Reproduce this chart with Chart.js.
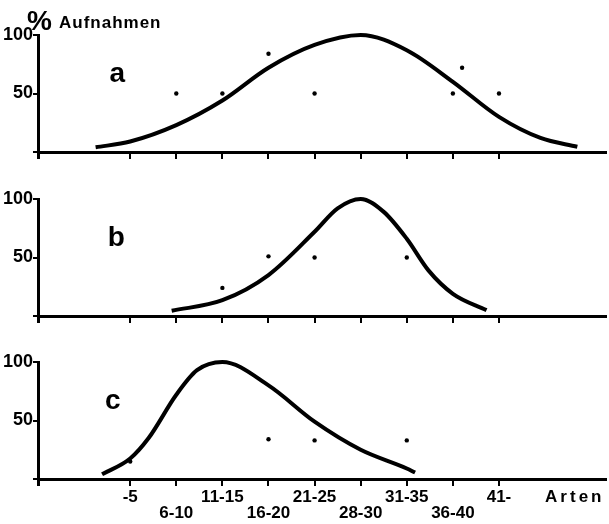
<!DOCTYPE html>
<html>
<head>
<meta charset="utf-8">
<script src="https://cdn.jsdelivr.net/npm/chart.js@4.4.1/dist/chart.umd.min.js"></script>
<style>
html,body{margin:0;padding:0;background:#fff;}
#wrap{position:relative;width:609px;height:524px;overflow:hidden;}
canvas{position:absolute;left:0;}
</style>
</head>
<body>
<div id="wrap">
<canvas id="chartA" width="609" height="170" style="top:0px"></canvas>
<canvas id="chartB" width="609" height="170" style="top:165px"></canvas>
<canvas id="chartC" width="609" height="194" style="top:330px"></canvas>
</div>
<script>
// species-count classes on the x axis (position 1..9, axis starts at -1)
const categories = ['-5','6-10','11-15','16-20','21-25','28-30','31-35','36-40','41-'];
const categoryPos = [1,2,3,4,5,6,7,8,9];
const yTicks = [0,50,100];

// panel a: fitted curve and observed points (% Aufnahmen)
const curveAX = [0.25, 1, 2, 3, 4, 5, 6, 7, 8, 9, 9.9, 10.7];
const curveAY = [4, 9, 23, 44, 72, 91.5, 100, 87, 60, 30, 12, 4.5];
const dotsAX = [2, 3, 4, 5, 8, 8.2, 9];
const dotsAY = [50, 50, 84, 50, 50, 72, 50];

// panel b
const curveBX = [1.9, 3, 4, 5, 5.5, 6, 6.5, 7, 7.47, 8, 8.73];
const curveBY = [4.5, 13.5, 35, 72, 92, 100, 89, 66, 39, 19, 5];
const dotsBX = [3, 4, 5, 7];
const dotsBY = [24, 51, 50, 50];

// panel c
const curveCX = [0.39, 1, 1.4, 2, 2.45, 3, 4, 5, 6, 7, 7.18];
const curveCY = [4, 17.5, 35, 72, 93, 100, 80, 49, 25, 9, 5.5];
const dotsCX = [1, 4, 5, 7];
const dotsCY = [15, 34, 33, 33];

const family = "'Liberation Sans', Arial, Helvetica, sans-serif";

function toPoints(xs, ys){
    return xs.map((x,k)=>({x:x, y:ys[k]}));
}

// draws panel letter, title and the "Arten" label
const textPlugin = {
    id:'panelText',
    afterDraw(chart, args, opts){
        const ctx = chart.ctx;
        const x = chart.scales.x, y = chart.scales.y;
        ctx.save();
        ctx.fillStyle = '#000';
        ctx.font = 'bold 28px ' + family;
        ctx.textAlign = 'center';
        ctx.textBaseline = 'alphabetic';
        ctx.fillText(opts.letter, x.getPixelForValue(opts.letterX), y.getPixelForValue(59.5));
        if(opts.title){
            ctx.textAlign = 'left';
            ctx.font = 'bold 28px ' + family;
            ctx.fillText('%', chart.chartArea.left - 11, 30);
            ctx.font = 'bold 17px ' + family;
            ctx.letterSpacing = '1px';
            ctx.fillText('Aufnahmen', chart.chartArea.left + 21, 28);
        }
        if(opts.arten){
            ctx.textAlign = 'left';
            ctx.textBaseline = 'middle';
            ctx.font = 'bold 17px ' + family;
            ctx.letterSpacing = '3px';
            ctx.fillText('Arten', x.getPixelForValue(10), chart.chartArea.bottom + 18);
        }
        ctx.restore();
    }
};

function createPanel(id, curveX, curveY, dotX, dotY, panel){
    const canvas = document.getElementById(id).getContext('2d');
    const config = {
        type:'scatter',
        data:{
            datasets:[{
                data:toPoints(curveX, curveY),
                showLine:true,
                borderColor:'#000',
                borderWidth:4,
                pointRadius:0,
                cubicInterpolationMode:'monotone',
                fill:false,
                clip:false
            },{
                data:toPoints(dotX, dotY),
                showLine:false,
                pointRadius:2.2,
                pointBackgroundColor:'#000',
                pointBorderWidth:0,
                clip:false
            }]
        },
        options:{
            responsive:false,
            animation:false,
            layout:{padding:{top:panel.padTop, left:0, right:0, bottom:0}},
            plugins:{
                legend:{display:false},
                tooltip:{enabled:false},
                panelText:panel
            },
            scales:{
                x:{
                    type:'linear',
                    min:-1,
                    max:11.3,
                    afterBuildTicks(scale){
                        scale.ticks = [-1].concat(categoryPos).map(v=>({value:v}));
                    },
                    afterFit(scale){
                        scale.height = panel.xHeight;
                    },
                    border:{display:true, color:'#000', width:3},
                    grid:{
                        drawOnChartArea:false,
                        drawTicks:true,
                        tickLength:7,
                        color:'#000',
                        lineWidth:(c)=> c.tick && c.tick.value === -1 ? 3 : 2
                    },
                    ticks:{
                        display:panel.showLabels,
                        autoSkip:false,
                        maxRotation:0,
                        padding:3,
                        color:'#000',
                        font:{family:family, size:17, weight:'bold', lineHeight:0.95},
                        callback(value){
                            const k = categoryPos.indexOf(value);
                            if(k < 0) return '';
                            return k % 2 === 0 ? [categories[k]] : ['', categories[k]];
                        }
                    }
                },
                y:{
                    type:'linear',
                    min:0,
                    max:100,
                    afterBuildTicks(scale){
                        scale.ticks = yTicks.map(v=>({value:v}));
                    },
                    afterFit(scale){
                        scale.width = 38;
                    },
                    border:{display:true, color:'#000', width:3},
                    grid:{
                        drawOnChartArea:false,
                        drawTicks:true,
                        tickLength:5,
                        color:'#000',
                        lineWidth:2
                    },
                    ticks:{
                        padding:0,
                        color:'#000',
                        font:{family:family, size:18, weight:'bold'},
                        callback(value){
                            return value === 0 ? '' : String(value);
                        }
                    }
                }
            }
        },
        plugins:[textPlugin]
    };
    new Chart(canvas, config);
}

createPanel('chartA', curveAX, curveAY, dotsAX, dotsAY,
    {letter:'a', letterX:0.72, padTop:35, xHeight:18, showLabels:false, title:true});
createPanel('chartB', curveBX, curveBY, dotsBX, dotsBY,
    {letter:'b', letterX:0.70, padTop:34, xHeight:19, showLabels:false});
createPanel('chartC', curveCX, curveCY, dotsCX, dotsCY,
    {letter:'c', letterX:0.62, padTop:32, xHeight:45, showLabels:true, arten:true});
</script>
</body>
</html>
